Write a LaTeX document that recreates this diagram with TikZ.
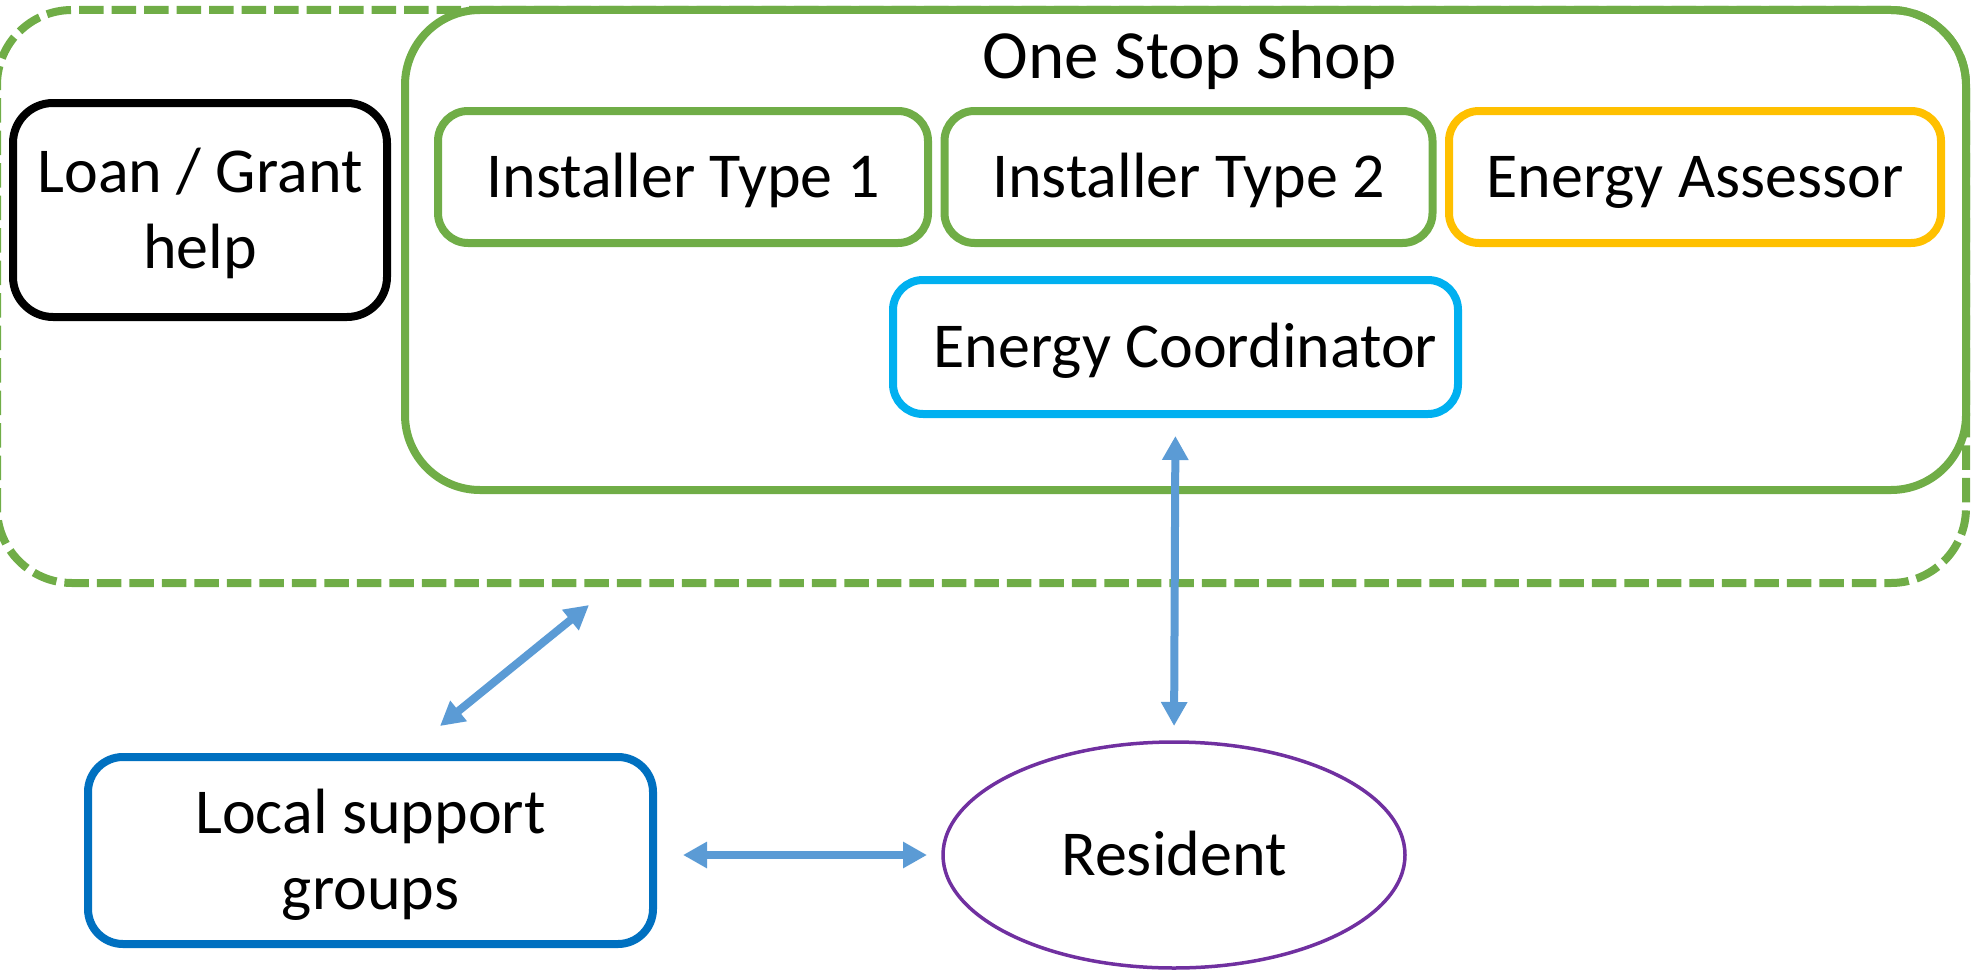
\documentclass[tikz,border=0pt]{standalone}
\usepackage{fontspec}
\setmainfont{Carlito}
\usetikzlibrary{arrows.meta,shapes.geometric}
\definecolor{ggreen}{HTML}{70AD47}
\definecolor{gorange}{HTML}{FFC000}
\definecolor{gcyan}{HTML}{00B0F0}
\definecolor{gblue}{HTML}{0070C0}
\definecolor{gpurple}{HTML}{7030A0}
\definecolor{garrow}{HTML}{5B9BD5}
\tikzset{
  lbl/.style={font=\fontsize{64}{76}\selectfont, inner sep=0pt, outer sep=0pt},
  bx/.style={lbl, draw, line width=8pt, rounded corners=30pt, align=center, text height=41pt, text depth=0pt},
  twoline/.style={text height=117pt, text depth=0pt},
  arr/.style={draw=garrow, line width=8pt, {Triangle[width=25pt,length=24pt]}-{Triangle[width=25pt,length=24pt]}},
  dashline/.style={draw=ggreen, line width=8pt, dash pattern=on 24.5pt off 8pt, rounded corners=75pt, inner sep=0pt, outer sep=0pt}
}
\begin{document}
\begin{tikzpicture}[x=1pt,y=-1pt]
\useasboundingbox (0,0) rectangle (1972,974);
% dashed region
\node[dashline, minimum width=1969pt, minimum height=573pt] (region) at (981.5,296.5) {};
% one stop shop box
\node[draw=ggreen, line width=8pt, rounded corners=75pt, inner sep=0pt, outer sep=0pt, minimum width=1561pt, minimum height=480pt] (oss) at (1185.5,250) {};
\node[lbl, font=\fontsize{69}{80}\selectfont, anchor=base] (title) at (1190,78) {One Stop Shop};
% boxes
\node[bx, twoline, draw=black, rounded corners=40pt, minimum width=374pt, minimum height=214pt] (loan) at (200,210) {Loan / Grant\\help};
\node[bx, draw=ggreen, minimum width=490pt, minimum height=132pt] (inst1) at (683,177) {Installer Type 1};
\node[bx, draw=ggreen, minimum width=488pt, minimum height=132pt] (inst2) at (1188.5,177) {Installer Type 2};
\node[bx, draw=gorange, minimum width=492pt, minimum height=132pt] (assess) at (1695,177) {Energy Assessor};
\node[bx, draw=gcyan, minimum width=565pt, minimum height=134pt] (coord) at (1175.5,347) {\hspace*{20pt}Energy Coordinator};
\node[bx, twoline, draw=gblue, rounded corners=35pt, minimum width=565pt, minimum height=187pt] (local) at (370.5,850.5) {Local support\\groups};
\node[lbl, draw=gpurple, line width=3.5pt, ellipse, minimum width=462pt, minimum height=226pt, text height=41pt, text depth=0pt] (res) at (1174,855) {Resident};
% arrows
\coordinate (d1) at (440,726);
\coordinate (d2) at (589,605);
\draw[arr] (d1) -- (d2);
\draw[arr, shorten <=22pt, shorten >=16pt] (coord.south) -- (res.north);
\draw[arr, shorten <=30pt, shorten >=16pt] (local.east |- res.west) -- (res.west);
\end{tikzpicture}
\end{document}
